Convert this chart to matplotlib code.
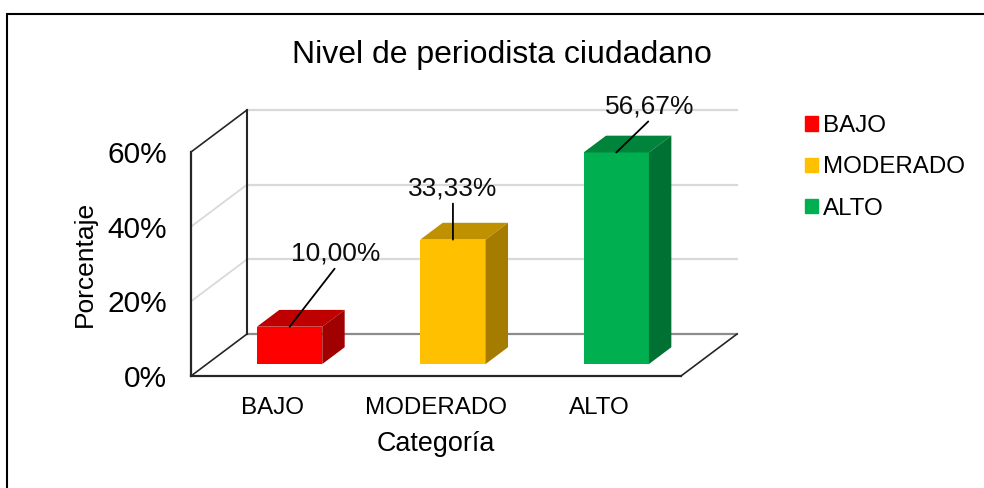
import matplotlib
matplotlib.use('Agg')
import matplotlib.pyplot as plt
from matplotlib.lines import Line2D
from matplotlib.patches import Patch

plt.rcParams['font.family'] = ['Liberation Sans', 'DejaVu Sans']

categories = ['BAJO', 'MODERADO', 'ALTO']
values = [10.00, 33.33, 56.67]
y_ticks = [0, 20, 40, 60]
y_labels = ['0%', '20%', '40%', '60%']
front_colors = ['#FF0000', '#FFC000', '#00B050']
top_colors = ['#BF0000', '#BF9000', '#00843C']
side_colors = ['#A00000', '#A67C00', '#007033']
# label offset from the bar top and end of the leader line, in pixels
label_offsets = [(46, 73), (0, 51), (33, 46)]
line_offsets = [(45, 58), (0, 36), (32, 31)]

W, H = 984, 488
DEPTH_X = 56 / (490 / 3)  # floor depth in category units
DEPTH_Y = 42 / (224 / 60)  # floor depth in percent units
BAR_W = 0.4
BAR_D0 = 0.285
BAR_D1 = 0.685
BAR_SHIFT = 0.006


def project(x, y, d):
    return x + DEPTH_X * d, y + DEPTH_Y * d


fig = plt.figure(figsize=(W / 100, H / 100), dpi=100, facecolor='white')
# only the top and left of the chart frame are in the picture
fig.add_artist(Line2D([6 / W, 1], [1 - 14 / H, 1 - 14 / H], color='black', lw=1.5, solid_capstyle='butt'))
fig.add_artist(Line2D([7 / W, 7 / W], [0, 1 - 14 / H], color='black', lw=1.5, solid_capstyle='butt'))

ax = fig.add_axes([191 / W, 1 - 376 / H, 490 / W, 224 / H])
ax.patch.set_visible(False)
ax.set_xlim(-0.5, 2.5)
ax.set_ylim(0, 60)
for s in ax.spines.values():
    s.set_visible(False)

# back wall grid and left wall grid
x0, x1 = -0.5, 2.5
for t in y_ticks:
    col = '#D9D9D9' if t > 0 else '#8C8C8C'
    ax.plot(*zip(project(x0, t, 1), project(x1, t, 1)), color=col, lw=1.6, clip_on=False, zorder=1)
    if 0 < t < 60:
        ax.plot(*zip(project(x0, t, 0), project(x0, t, 1)), color='#D9D9D9', lw=1.3, clip_on=False, zorder=1)

# wall and floor outlines
dark = '#262626'
ax.plot(*zip(project(x0, 60, 0), project(x0, 60, 1)), color=dark, lw=1.2, clip_on=False, zorder=2)
ax.plot(*zip(project(x0, 0, 0), project(x0, 60, 0)), color=dark, lw=1.6, clip_on=False, zorder=2)
ax.plot(*zip(project(x0, 0, 1), project(x0, 60, 1)), color=dark, lw=1.5, clip_on=False, zorder=2)
ax.plot(*zip(project(x0, 0, 0), project(x0, 0, 1)), color=dark, lw=1.2, clip_on=False, zorder=2)
ax.plot(*zip(project(x0, 0, 0), project(x1, 0, 0)), color=dark, lw=1.6, clip_on=False, zorder=2)
ax.plot(*zip(project(x1, 0, 0), project(x1, 0, 1)), color=dark, lw=1.2, clip_on=False, zorder=2)

# 3d bars
for i, v in enumerate(values):
    xc = i + BAR_SHIFT
    xl, xr = xc - BAR_W / 2, xc + BAR_W / 2
    bx, by = project(xc, 0, BAR_D0)
    ax.bar(bx, v, BAR_W, bottom=by, color=front_colors[i], zorder=3, clip_on=False)
    tl, tr = project(xl, v, BAR_D0), project(xr, v, BAR_D0)
    bl, br = project(xl, v, BAR_D1), project(xr, v, BAR_D1)
    ax.fill(*zip(tl, tr, br, bl), color=top_colors[i], lw=0, zorder=3, clip_on=False)
    fb, bb = project(xr, 0, BAR_D0), project(xr, 0, BAR_D1)
    ax.fill(*zip(fb, tr, br, bb), color=side_colors[i], lw=0, zorder=3, clip_on=False)

    anchor = project(xc, v, BAR_D0)
    ax.annotate('', xy=anchor, xytext=line_offsets[i], textcoords='offset pixels',
                arrowprops=dict(arrowstyle='-', color='black', lw=1.3, shrinkA=0, shrinkB=0), zorder=5)
    ax.annotate(f'{v:.2f}%'.replace('.', ','), xy=anchor, xytext=label_offsets[i], textcoords='offset pixels',
                ha='center', va='center', fontsize=19, color='#0D0D0D', zorder=6)

ax.set_xticks(range(len(categories)), categories, fontsize=17.4)
ax.set_yticks(y_ticks, y_labels, fontsize=21.5)
ax.tick_params(axis='both', length=0)
ax.tick_params(axis='x', pad=15)
ax.tick_params(axis='y', pad=17)
ax.set_xlabel('Categoría', fontsize=19.4, labelpad=9)
ax.set_ylabel('Porcentaje', fontsize=19, labelpad=8)

fig.text(502 / W, 1 - 63 / H, 'Nivel de periodista ciudadano', fontsize=23, ha='center', va='baseline')

handles = [Patch(color=c, label=n) for c, n in zip(front_colors, categories)]
fig.legend(handles=handles, loc='upper left', bbox_to_anchor=(805 / W, 1 - 115 / H), frameon=False,
           fontsize=17.4, handlelength=0.55, handleheight=0.55, handletextpad=0.2, labelspacing=0.8,
           borderpad=0, borderaxespad=0)

fig.savefig('out.png', dpi=100)
